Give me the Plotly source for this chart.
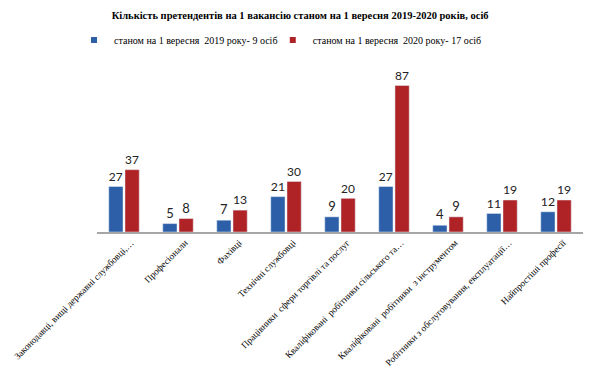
import plotly.graph_objects as go

categories = [
    "Законодавці, вищі державні службовці,…",
    "Професіонали",
    "Фахівці",
    "Технічні службовці",
    "Працівники  сфери торгівлі та послуг",
    "Кваліфіковані  робітники сільського та…",
    "Кваліфіковані  робітники  з інструментом",
    "Робітники з обслуговування, експлуатації…",
    "Найпростіші професії",
]
values_2019 = [27, 5, 7, 21, 9, 27, 4, 11, 12]
values_2020 = [37, 8, 13, 30, 20, 87, 9, 19, 19]
name_2019 = "станом на 1 вересня\u00a0 2019 року- 9 осіб"
name_2020 = "станом на 1 вересня\u00a0 2020 року- 17 осіб"
title_text = "Кількість претендентів на 1 вакансію станом на 1 вересня 2019-2020 років, осіб"

blue = "#2C5FA8"
red = "#AF2326"
serif = "'Liberation Serif', Tinos, 'Times New Roman', Times, serif"

fig = go.Figure()
fig.add_trace(go.Bar(x=categories, y=values_2019, marker_color=blue, showlegend=False,
                     text=values_2019, textposition="outside", cliponaxis=False,
                     textfont=dict(family="Lato", size=13, color="#222222")))
fig.add_trace(go.Bar(x=categories, y=values_2020, marker_color=red, showlegend=False,
                     text=values_2020, textposition="outside", cliponaxis=False,
                     textfont=dict(family="Lato", size=13, color="#222222")))
fig.add_trace(go.Scatter(x=[None], y=[None], mode="markers", name=name_2019, legend="legend",
                         marker=dict(symbol="square", size=6, color=blue)))
fig.add_trace(go.Scatter(x=[None], y=[None], mode="markers", name=name_2020, legend="legend2",
                         marker=dict(symbol="square", size=6, color=red)))

legend_common = dict(orientation="h", xref="container", yref="container", xanchor="left",
                     yanchor="middle", y=0.916, itemwidth=30,
                     font=dict(family=serif, size=10, color="#000000"),
                     bgcolor="rgba(0,0,0,0)")

fig.update_layout(
    width=595, height=381,
    margin=dict(l=89, r=20, t=64, b=157, autoexpand=False),
    paper_bgcolor="white", plot_bgcolor="white",
    barmode="group", bargap=0.4, bargroupgap=0.12,
    title=dict(text="<b>" + title_text + "</b>", x=0.491, xref="container", xanchor="center",
               y=0.982, yref="container", yanchor="middle",
               font=dict(family=serif, size=10.5, color="#000000")),
    legend=dict(x=0.111, **legend_common),
    legend2=dict(x=0.445, **legend_common),
    showlegend=True,
)
fig.update_xaxes(showline=True, linecolor="#A6A6A6", linewidth=1.5, tickangle=-45,
                 ticks="", showgrid=False, automargin=False, ticklabelshift=7,
                 tickfont=dict(family=serif, size=9.3, color="#000000"))
fig.update_yaxes(range=[0, 95], visible=False, showgrid=False, automargin=False)

fig.write_html("out.html")
